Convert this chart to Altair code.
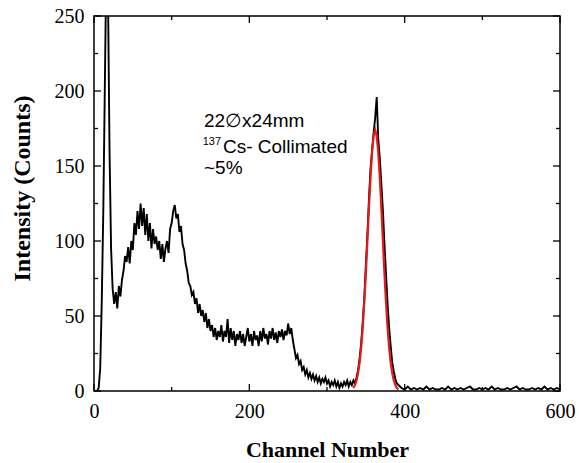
import altair as alt
import pandas as pd

# ---- spectrum (black), channel step 2 up to 394, then step 4 ----
ch_main = list(range(0, 396, 2))
counts_main = [
    0, 0, 0, 2, 15, 60, 121, 205, 290, 265,
    160, 95, 68, 58, 66, 55, 70, 63, 74, 80,
    90, 86, 96, 85, 100, 94, 112, 104, 120, 108,
    125, 110, 122, 104, 118, 100, 112, 95, 108, 98,
    103, 94, 100, 88, 98, 86, 95, 100, 92, 108,
    112, 120, 124, 115, 118, 106, 110, 98, 94, 85,
    80, 72, 70, 64, 66, 58, 62, 52, 58, 50,
    54, 46, 52, 42, 48, 40, 44, 36, 42, 34,
    40, 36, 44, 33, 40, 36, 48, 32, 42, 34,
    40, 30, 38, 34, 40, 32, 38, 30, 36, 42,
    33, 38, 30, 40, 34, 37, 30, 40, 33, 42,
    35, 38, 31, 40, 35, 42, 34, 39, 32, 40,
    36, 41, 34, 40, 37, 45, 38, 42, 34, 28,
    22, 24, 18, 20, 14, 16, 11, 14, 9, 12,
    8, 11, 7, 10, 6, 9, 5, 8, 6, 9,
    5, 7, 3, 6, 4, 7, 3, 6, 2, 5,
    3, 6, 4, 7, 3, 6, 4, 7, 5, 9,
    14, 22, 32, 46, 62, 84, 104, 128, 148, 160,
    172, 182, 196, 168, 155, 138, 120, 98, 78, 58,
    42, 30, 19, 13, 8, 5, 4, 3,
]
ch_tail = list(range(396, 601, 4))
counts_tail = [
    2, 1, 3, 1, 2, 1, 2, 1, 3, 1,
    2, 1, 1, 2, 1, 3, 1, 2, 1, 2,
    1, 2, 3, 1, 1, 2, 1, 2, 1, 3,
    1, 2, 1, 1, 2, 1, 2, 3, 1, 2,
    1, 1, 2, 1, 2, 1, 3, 1, 2, 1,
    2, 1,
]

# ---- Gaussian fit (red) ----
ch_fit = list(range(334, 394, 2))
counts_fit = [2, 4, 7, 12, 19, 29, 42, 59, 78, 100, 122, 142, 159, 170, 174,
              170, 159, 142, 122, 100, 78, 59, 42, 29, 19, 12, 7, 4, 2, 1]

# ---- ticks ----
x_major = [0, 200, 400, 600]
x_minor = [100, 300, 500]
y_major = [0, 50, 100, 150, 200, 250]
y_minor = [25, 75, 125, 175, 225]

# ---- annotations ----
ann_x = [141.6, 166.0, 141.6]
ann_y = [176.0, 158.7, 145.0]
ann_text = ["22\u2205x24mm", "Cs- Collimated", "~5%"]
sup_x = [140.0]
sup_y = [164.0]
sup_text = ["137"]

W, H = 466, 375

spec = pd.DataFrame({"ch": ch_main + ch_tail, "cnt": counts_main + counts_tail})
fit = pd.DataFrame({"ch": ch_fit, "cnt": counts_fit})
ann = pd.DataFrame({"ch": ann_x, "cnt": ann_y, "t": ann_text})
sup = pd.DataFrame({"ch": sup_x, "cnt": sup_y, "t": sup_text})

xscale = alt.Scale(domain=[0, 600], nice=False, zero=False)
yscale = alt.Scale(domain=[0, 250], nice=False, zero=False)
xaxis = alt.Axis(values=x_major, ticks=False, domain=False, grid=False,
                 labelFont="Liberation Serif", labelFontSize=20, labelColor="black",
                 labelPadding=10, labelFlush=False,
                 titleFont="Liberation Serif", titleFontSize=22, titleFontWeight="bold",
                 titleColor="black", titlePadding=18)
yaxis = alt.Axis(values=y_major, ticks=False, domain=False, grid=False,
                 labelFont="Liberation Serif", labelFontSize=20, labelColor="black",
                 labelPadding=10, labelFlush=False,
                 titleFont="Liberation Serif", titleFontSize=24, titleFontWeight="bold",
                 titleColor="black", titlePadding=20, titleY=172)

X = alt.X("ch:Q", scale=xscale, axis=xaxis, title="Channel Number")
Y = alt.Y("cnt:Q", scale=yscale, axis=yaxis, title="Intensity (Counts)")

line = alt.Chart(spec).mark_line(color="black", strokeWidth=1.9, clip=True).encode(x=X, y=Y)
red = alt.Chart(fit).mark_line(color="#e31a1c", strokeWidth=2.2, clip=True).encode(x=X, y=Y)

txt = alt.Chart(ann).mark_text(font="Liberation Sans", fontSize=19, align="left",
                               baseline="alphabetic", color="black").encode(x=X, y=Y, text="t:N")
suptxt = alt.Chart(sup).mark_text(font="Liberation Sans", fontSize=11, align="left",
                                  baseline="alphabetic", color="black").encode(x=X, y=Y, text="t:N")

def xticks(vals, length):
    df = pd.DataFrame({"ch": vals})
    b = alt.Chart(df).mark_rule(color="black", strokeWidth=1.3).encode(
        x=X, y=alt.value(H), y2=alt.value(H - length))
    t = alt.Chart(df).mark_rule(color="black", strokeWidth=1.3).encode(
        x=X, y=alt.value(0), y2=alt.value(length))
    return [b, t]

def yticks(vals, length):
    df = pd.DataFrame({"cnt": vals})
    l = alt.Chart(df).mark_rule(color="black", strokeWidth=1.3).encode(
        y=Y, x=alt.value(0), x2=alt.value(length))
    r = alt.Chart(df).mark_rule(color="black", strokeWidth=1.3).encode(
        y=Y, x=alt.value(W), x2=alt.value(W - length))
    return [l, r]

layers = [line, red, txt, suptxt] + xticks(x_major, 7) + xticks(x_minor, 4) \
    + yticks(y_major, 7) + yticks(y_minor, 4)

chart = alt.layer(*layers).properties(
    width=W, height=H,
    autosize=alt.AutoSizeParams(type="none"),
    padding={"left": 94, "top": 16, "right": 19, "bottom": 72},
    background="white",
).configure_view(stroke="black", strokeWidth=1.5)

chart.save("out.html", embed_options={"renderer": "svg", "actions": False})
